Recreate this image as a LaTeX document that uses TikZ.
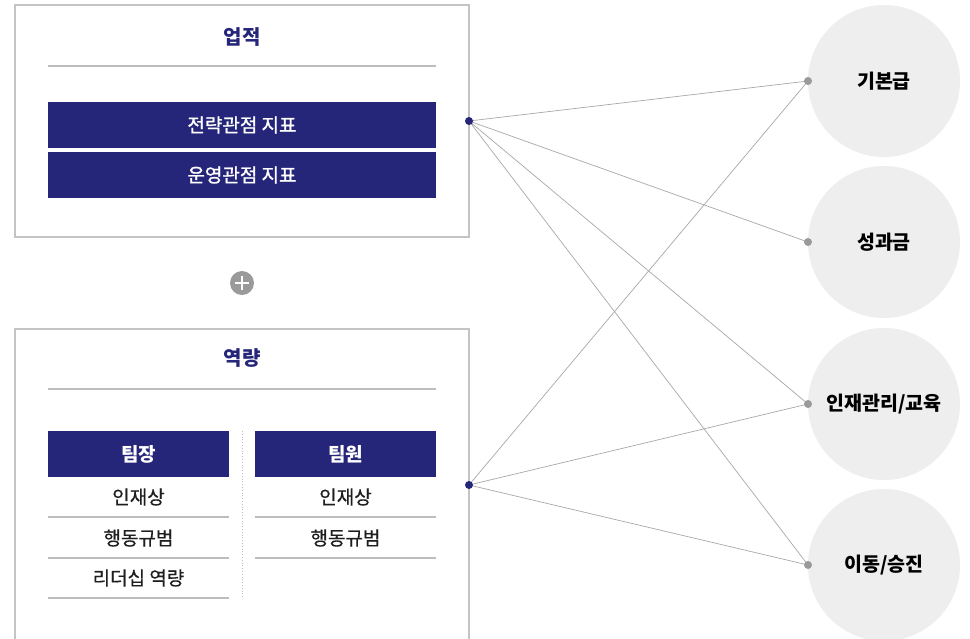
\documentclass[tikz,border=0pt]{standalone}
\usepackage{fontspec}
\setmainfont{Noto Sans CJK KR}
\newfontfamily\barfont{Noto Sans CJK KR}[FakeBold=1.2]
\newfontfamily\cellfont{Noto Sans CJK KR}[FakeBold=0.4]
\definecolor{navy}{HTML}{25257A}
\definecolor{boxline}{HTML}{C4C4C4}
\definecolor{sepline}{HTML}{BDBDBD}
\definecolor{circfill}{HTML}{EEEEEE}
\definecolor{conn}{HTML}{A8A8A8}
\definecolor{dotgray}{HTML}{9A9A9A}
\definecolor{txt}{HTML}{1E1E1E}
\begin{document}
\begin{tikzpicture}[x=1pt,y=-1pt,
  panel/.style={draw=boxline,line width=1.2pt},
  bar/.style={fill=navy,draw=none,text=white,font=\barfont\fontsize{19}{21}\selectfont,inner sep=0pt},
  cell/.style={text=txt,font=\cellfont\fontsize{19}{21}\selectfont,inner sep=0pt},
  rule/.style={draw=sepline,line width=1.2pt},
  title/.style={text=navy,font=\bfseries\fontsize{20}{22}\selectfont,inner sep=0pt},
  target/.style={circle,fill=circfill,draw=none,minimum size=152pt,inner sep=0pt,text=black,font=\bfseries\fontsize{19.5}{21}\selectfont},
  conn/.style={draw=conn,line width=0.7pt},
  ndot/.style={circle,fill=navy,minimum size=8pt,inner sep=0pt},
  gdot/.style={circle,fill=dotgray,minimum size=8pt,inner sep=0pt}]
\useasboundingbox (0,0) rectangle (970,638);
\fill[white] (0,0) rectangle (970,638);
% upper panel
\draw[panel] (15,5) rectangle (469,237);
\node[title] (t1) at (242,37) {업적};
\draw[rule] (48,66) -- (436,66);
\node[bar,minimum width=388pt,minimum height=46pt] (b1) at (242,125) {전략관점 지표};
\node[bar,minimum width=388pt,minimum height=46pt] (b2) at (242,175) {운영관점 지표};
% plus
\node[circle,fill=dotgray,minimum size=24pt,inner sep=0pt] (plus) at (242,283) {};
\draw[white,line width=1.3pt] (235,283) -- (249,283) (242,276) -- (242,290);
% lower panel
\draw[panel] (15,650) -- (15,329) -- (469,329) -- (469,650);
\node[title] (t2) at (242,358) {역량};
\draw[rule] (48,389) -- (436,389);
\node[bar,font=\bfseries\fontsize{19}{21}\selectfont,minimum width=181pt,minimum height=46pt] (lead) at (138.5,454) {팀장};
\node[bar,font=\bfseries\fontsize{19}{21}\selectfont,minimum width=181pt,minimum height=46pt] (mem) at (345.5,454) {팀원};
\draw[sepline,line width=0.8pt,dotted] (242,431) -- (242,598);
\node[cell] (l1) at (138.5,497) {인재상};
\draw[rule] (48,517) -- (229,517);
\node[cell] (l2) at (138.5,538) {행동규범};
\draw[rule] (48,558) -- (229,558);
\node[cell] (l3) at (138.5,578) {리더십 역량};
\draw[rule] (48,598) -- (229,598);
\node[cell] (m1) at (345.5,497) {인재상};
\draw[rule] (255,517) -- (436,517);
\node[cell] (m2) at (345.5,538) {행동규범};
\draw[rule] (255,558) -- (436,558);
% targets
\node[target] (c1) at (884,81) {기본급};
\node[target] (c2) at (884,242) {성과금};
\node[target] (c3) at (884,404) {인재관리/교육};
\node[target] (c4) at (884,565) {이동/승진};
\coordinate (p1) at (808,81);
\coordinate (p2) at (808,242);
\coordinate (p3) at (808,404);
\coordinate (p4) at (808,565);
\coordinate (s1) at (469,121);
\coordinate (s2) at (469,485);
\draw[conn] (s1) -- (p1) (s1) -- (p2) (s1) -- (p3) (s1) -- (p4);
\draw[conn] (s2) -- (p1) (s2) -- (p3) (s2) -- (p4);
\node[ndot] (d1) at (s1) {};
\node[ndot] (d2) at (s2) {};
\node[gdot] (g1) at (p1) {};
\node[gdot] (g2) at (p2) {};
\node[gdot] (g3) at (p3) {};
\node[gdot] (g4) at (p4) {};
\end{tikzpicture}
\end{document}
